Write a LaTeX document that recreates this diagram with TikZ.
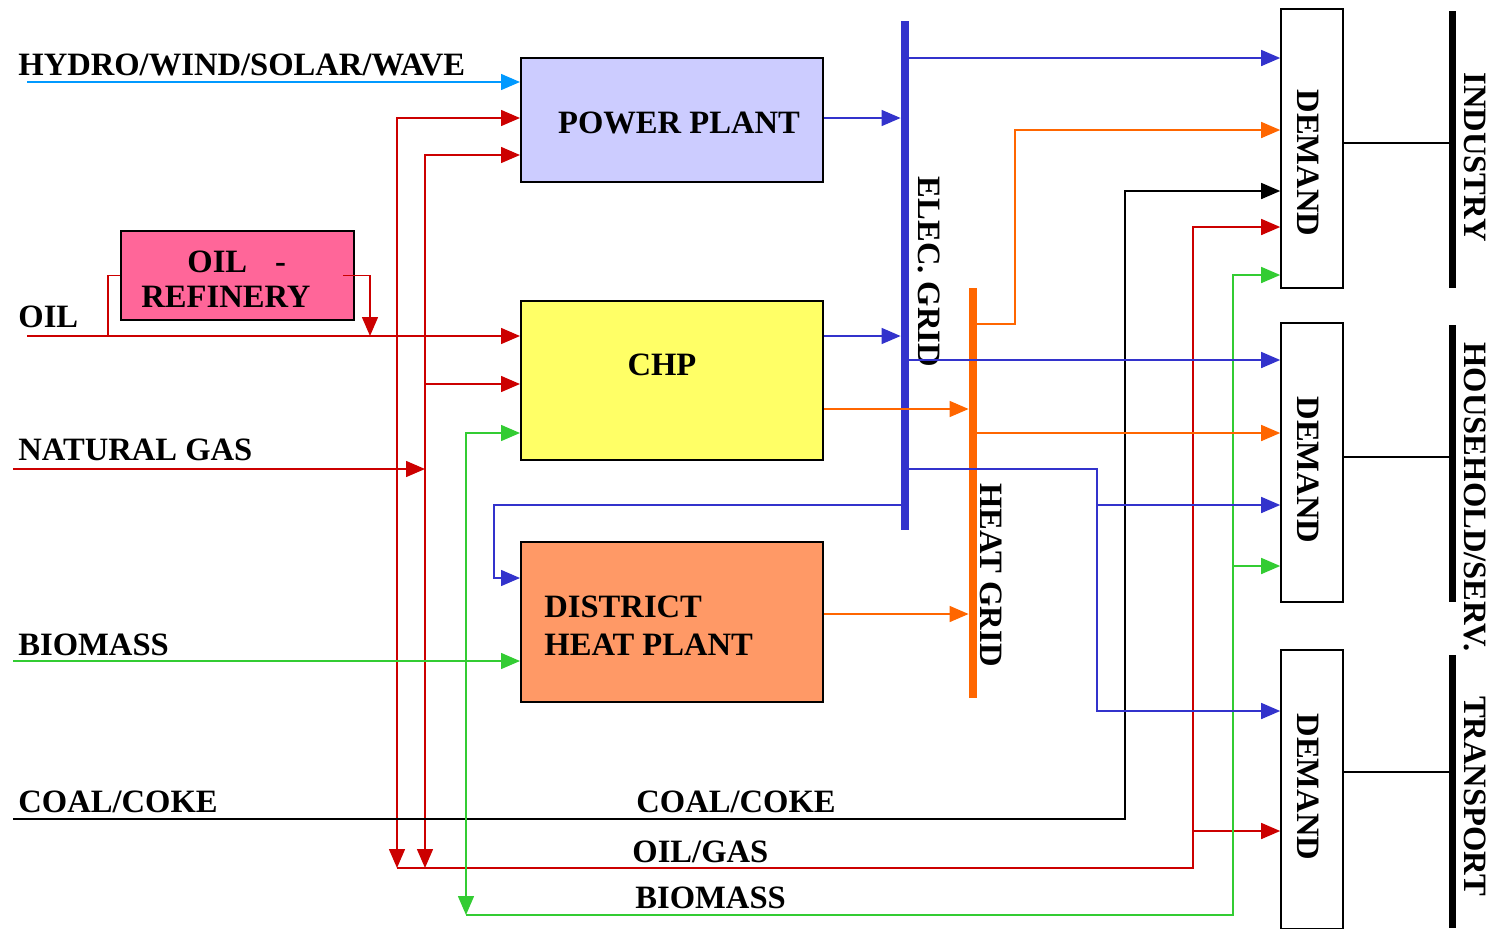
\documentclass[tikz,border=0pt]{standalone}
\usepackage{fontspec}
\setmainfont{Liberation Serif}
\usepackage{tikz}
\usetikzlibrary{arrows.meta}

\definecolor{hydro}{HTML}{0099FF}
\definecolor{oilred}{HTML}{CC0000}
\definecolor{elblue}{HTML}{3333CC}
\definecolor{heatorg}{HTML}{FF6600}
\definecolor{biogreen}{HTML}{33CC33}
\definecolor{ppfill}{HTML}{CCCCFF}
\definecolor{chpfill}{HTML}{FFFF66}
\definecolor{dhpfill}{HTML}{FF9966}
\definecolor{reffill}{HTML}{FF6699}

\begin{document}
\begin{tikzpicture}[
  x=0.5pt, y=-0.5pt,
  font=\fontsize{16.3}{17.5}\selectfont\bfseries,
  box/.style={draw, line width=1pt, inner sep=0pt, minimum width=151pt},
  dem/.style={draw, line width=0.8pt, inner sep=0pt,
    minimum width=31pt, minimum height=139.5pt},
  bar/.style={inner sep=0pt, minimum width=4pt},
  ln/.style={line width=0.75pt},
  arr/.style={ln, -{Triangle[length=9.5pt,width=8pt]}},
  dbl/.style={ln, {Triangle[length=9.5pt,width=8pt]}-{Triangle[length=9.5pt,width=8pt]}},
  lab/.style={anchor=base west, inner sep=0pt},
  txt/.style={inner sep=0pt, align=left},
  vlab/.style={rotate=-90, inner sep=0pt}
]
\useasboundingbox (0,0) rectangle (1490,928);

% plants
\node[box, fill=ppfill, minimum height=62pt] (pp) at (672,120) {};
\node[txt] (pptxt) at (679,123) {POWER PLANT};
\node[box, fill=chpfill, minimum height=79.5pt] (chp) at (672,380.5) {};
\node[txt] (chptxt) at (662,365) {CHP};
\node[box, fill=dhpfill, minimum height=80pt] (dhp) at (672,622) {};
\node[txt, anchor=west, font=\fontsize{16.3}{19}\selectfont\bfseries] (dhptxt) at (544,626)
  {DISTRICT\\HEAT PLANT};
\node[box, fill=reffill, minimum width=116.5pt, minimum height=44.5pt] (ref) at (237.5,275.5) {};
\node[txt, anchor=west] (reftxt) at (141,279.5) {\hspace*{23pt}OIL\hspace{14pt}-\\REFINERY};

% grids
\node[bar, fill=elblue, minimum height=254.5pt] (eg) at (905,275.5) {};
\node[bar, fill=heatorg, minimum height=205pt] (hg) at (973,493) {};
\node[vlab] (egl) at (929,272) {ELEC. GRID};
\node[vlab] (hgl) at (991,575) {HEAT GRID};

% demand and sectors
\node[dem] (d1) at (1312,148.5) {};
\node[dem] (d2) at (1312,462.5) {};
\node[dem] (d3) at (1312,789.5) {};
\node[vlab] (d1l) at (1308,163) {DEMAND};
\node[vlab] (d2l) at (1308,470) {DEMAND};
\node[vlab] (d3l) at (1308,787) {DEMAND};
\node[bar, fill=black, minimum width=3.5pt, minimum height=138.5pt] (ind) at (1452.5,149.5) {};
\node[bar, fill=black, minimum width=3.5pt, minimum height=138.5pt] (hh) at (1452.5,463.5) {};
\node[bar, fill=black, minimum width=3.5pt, minimum height=136.5pt] (tr) at (1452.5,791.5) {};
\node[vlab] (indl) at (1475,157) {INDUSTRY};
\node[vlab] (hhl) at (1475,497) {HOUSEHOLD/SERV.};
\node[vlab] (trl) at (1475,796) {TRANSPORT};
\draw[ln] (d1.east |- 0,143) -- (ind.west |- 0,143);
\draw[ln] (d2.east |- 0,457) -- (hh.west |- 0,457);
\draw[ln] (d3.east |- 0,772) -- (tr.west |- 0,772);

% input labels
\node[lab] (hydl) at (18,75) {HYDRO/WIND/SOLAR/WAVE};
\node[lab] (oill) at (18,327) {OIL};
\node[lab] (ngl) at (18,460) {NATURAL GAS};
\node[lab] (biol) at (18,655) {BIOMASS};
\node[lab] (coall) at (18,812) {COAL/COKE};
\node[lab] (coalm) at (636,812) {COAL/COKE};
\node[lab] (ogm) at (632,862) {OIL/GAS};
\node[lab] (biom) at (635,908) {BIOMASS};

% end points
\coordinate (hyd) at (27,82);
\coordinate (oil) at (27,336);
\coordinate (oilref) at (108,336);
\coordinate (refout) at (370,336);
\coordinate (ng) at (13,469);
\coordinate (bio) at (13,661);
\coordinate (coal) at (13,819);
\coordinate (coalup) at (1125,191);
\coordinate (r1) at (397,868);
\coordinate (r2) at (425,868);
\coordinate (ogup) at (1193,227);
\coordinate (g1) at (466,915);
\coordinate (gup) at (1233,275);
\coordinate (bdn) at (1097,469);
\coordinate (bdhp) at (494,505);
\coordinate (oup) at (1015,324);

% fuels
\draw[arr, hydro] (hyd) -- (pp.west |- hyd);
\draw[arr, oilred] (oil) -- (chp.west |- oil);
\draw[ln, oilred] (ref.west) -| (oilref);
\draw[arr, oilred] ([xshift=-6pt]ref.east) -| (refout);
\draw[dbl, oilred] (pp.west |- 0,118) -| (r1);
\draw[dbl, oilred] (pp.west |- 0,155) -| (r2);
\draw[arr, oilred] (r2 |- 0,384) -- (chp.west |- 0,384);
\draw[arr, oilred] (ng) -- (r2 |- ng);
\draw[arr, oilred] (r1) -| (ogup) -- (d1.west |- ogup);
\draw[arr, oilred] (ogup |- 0,831) -- (d3.west |- 0,831);
\draw[arr] (coal) -| (coalup) -- (d1.west |- coalup);
\draw[arr, biogreen] (bio) -- (dhp.west |- bio);
\draw[dbl, biogreen] (chp.west |- 0,433) -| (g1);
\draw[arr, biogreen] (g1) -| (gup) -- (d1.west |- gup);
\draw[arr, biogreen] (gup |- 0,566) -- (d2.west |- 0,566);

% electricity
\draw[arr, elblue] (pp.east |- 0,118) -- (eg.west |- 0,118);
\draw[arr, elblue] (chp.east |- 0,336) -- (eg.west |- 0,336);
\draw[arr, elblue] (eg.east |- 0,58) -- (d1.west |- 0,58);
\draw[arr, elblue] (eg.east |- 0,360) -- (d2.west |- 0,360);
\draw[arr, elblue] (eg.east |- bdn) -- (bdn) |- (d3.west |- 0,711);
\draw[arr, elblue] (bdn |- 0,505) -- (d2.west |- 0,505);
\draw[arr, elblue] (eg.west |- bdhp) -- (bdhp) |- (dhp.west |- 0,578);

% heat
\draw[arr, heatorg] (chp.east |- 0,409) -- (hg.west |- 0,409);
\draw[arr, heatorg] (dhp.east |- 0,614) -- (hg.west |- 0,614);
\draw[arr, heatorg] (hg.east |- oup) -- (oup) |- (d1.west |- 0,130);
\draw[arr, heatorg] (hg.east |- 0,433) -- (d2.west |- 0,433);
\end{tikzpicture}
\end{document}
